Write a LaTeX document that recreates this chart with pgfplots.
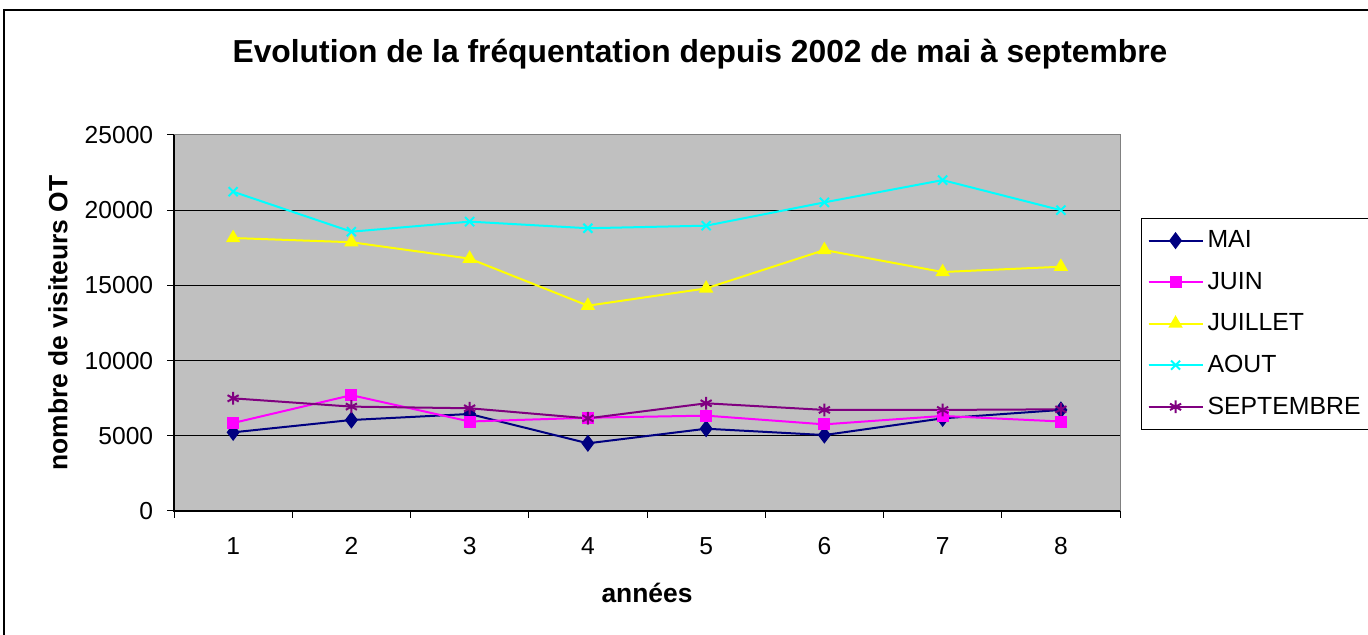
\documentclass[border=0pt]{standalone}
\usepackage{pgfplots}
\pgfplotsset{compat=1.18}
\usepackage{fontspec}
\setmainfont{Liberation Sans}
\definecolor{mai}{RGB}{0,0,128}
\definecolor{juin}{RGB}{255,0,255}
\definecolor{juillet}{RGB}{255,255,0}
\definecolor{aout}{RGB}{0,255,255}
\definecolor{sept}{RGB}{128,0,128}
\definecolor{plotbg}{RGB}{192,192,192}
\begin{document}
\begin{tikzpicture}[x=0.5pt,y=0.5pt]
\useasboundingbox (0,0) rectangle (1368,635);
\clip (0,0) rectangle (1368,635);
\draw[line width=1pt,black] (4,-30) -- (4,625) -- (1400,625);
\begin{axis}[
  at={(87pt,62pt)}, anchor=south west,
  scale only axis, width=473pt, height=188pt,
  xmin=0.5, xmax=8.5, ymin=0, ymax=25000,
  axis background/.style={fill=plotbg},
  axis line style={draw=none},
  ytick={0,5000,...,25000},
  ymajorgrids, grid style={black, line width=0.5pt},
  xtick={0.5,1.5,...,8.5},
  xticklabels={},
  xtick pos=bottom, ytick pos=left,
  extra x ticks={1,...,8},
  extra x tick labels={1,2,3,4,5,6,7,8},
  extra x tick style={grid=none, major tick style={draw=none}},
  tick align=outside, major tick length=3.5pt,
  tick style={black, line width=0.5pt},
  /pgf/number format/1000 sep={},
  /pgf/number format/assume math mode=true,
  scaled y ticks=false,
  ticklabel style={font=\fontsize{12.3}{14}\selectfont},
  yticklabel style={xshift=-3.4pt},
  xticklabel style={yshift=-6.2pt},
  title={\bfseries Evolution de la fréquentation depuis 2002 de mai à septembre},
  title style={font=\fontsize{15.9}{18}\selectfont, at={(axis description cs:0.556,1.1835)}, anchor=center},
  xlabel={\bfseries années},
  xlabel style={font=\fontsize{13.2}{15}\selectfont, at={(axis description cs:0.5,-0.218)}, anchor=center},
  ylabel={\bfseries nombre de visiteurs OT},
  ylabel style={font=\fontsize{13.2}{15}\selectfont, at={(axis description cs:-0.1226,0.5)}, anchor=center},
  legend style={at={(1.0222,0.779)}, anchor=north west, draw=black, line width=0.5pt,
    font=\fontsize{12.4}{14}\selectfont, row sep=6.7pt, inner ysep=4pt, inner xsep=3pt},
  legend cell align=left,
  legend image code/.code={\draw[#1] (0cm,0cm) -- (0.95cm,0cm); \draw[#1, mark repeat=2, mark phase=2] plot coordinates {(0cm,0cm) (0.475cm,0cm) (0.95cm,0cm)};},
  every axis plot/.append style={line width=1pt},
  after end axis/.code={
    \draw[gray, line width=0.5pt] (rel axis cs:0,0) rectangle (rel axis cs:1,1);
    \draw[black, line width=0.75pt] (rel axis cs:0,1) -- (rel axis cs:0,0) -- (rel axis cs:1,0);
  },
]
\addplot[mai, mark=diamond*, mark size=3.5pt, mark options={fill=mai}] coordinates {
(1,5230) (2,6050) (3,6450) (4,4500) (5,5470) (6,5050) (7,6160) (8,6720)};
\addlegendentry{MAI}
\addplot[juin, mark=square*, mark size=2.5pt, mark options={fill=juin}] coordinates {
(1,5850) (2,7700) (3,5950) (4,6200) (5,6340) (6,5760) (7,6320) (8,5950)};
\addlegendentry{JUIN}
\addplot[juillet, mark=triangle*, mark size=3.2pt, mark options={fill=juillet}] coordinates {
(1,18150) (2,17870) (3,16780) (4,13650) (5,14800) (6,17350) (7,15890) (8,16240)};
\addlegendentry{JUILLET}
\addplot[aout, mark=x, mark size=3.2pt] coordinates {
(1,21230) (2,18570) (3,19240) (4,18800) (5,18970) (6,20520) (7,22000) (8,20000)};
\addlegendentry{AOUT}
\addplot[sept, mark=asterisk, mark size=3.2pt] coordinates {
(1,7490) (2,6940) (3,6830) (4,6160) (5,7160) (6,6720) (7,6720) (8,6760)};
\addlegendentry{SEPTEMBRE}
\end{axis}
\end{tikzpicture}
\end{document}
